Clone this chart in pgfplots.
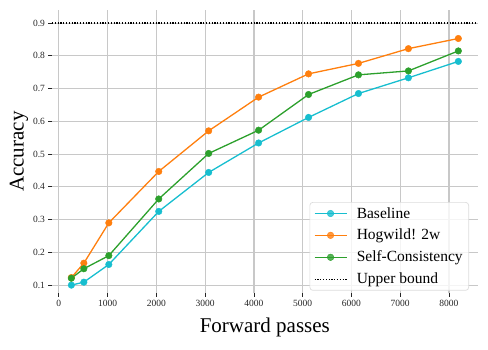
\documentclass[border=0pt]{standalone}
\usepackage{fontspec}
\setmainfont{Liberation Serif}
\usepackage{pgfplots}
\pgfplotsset{compat=1.18}

\definecolor{cBase}{HTML}{17BECF}
\definecolor{cHog}{HTML}{FF7F0E}
\definecolor{cSC}{HTML}{2CA02C}
\definecolor{gridgray}{HTML}{C8C8C8}
\definecolor{legframe}{HTML}{DCDCDC}

\begin{document}
\begin{tikzpicture}
\begin{axis}[
  at={(0,0)}, anchor=south west,
  scale only axis, width=425.7pt, height=283.3pt,
  xmin=-141, xmax=8589, ymin=0.075, ymax=0.94,
  xtick={0,1000,2000,3000,4000,5000,6000,7000,8000},
  ytick={0.1,0.2,0.3,0.4,0.5,0.6,0.7,0.8,0.9},
  axis line style={draw=none},
  grid=major, major grid style={line width=1.2pt, color=gridgray},
  tick align=outside, tick pos=left, major tick length=3.5pt,
  tick style={line width=0.8pt, color=black!85},
  tick label style={font=\fontsize{9.5}{11}\selectfont, text=black!85},
  /pgf/number format/assume math mode=true,
  /pgf/number format/1000 sep={},
  yticklabel style={/pgf/number format/fixed, /pgf/number format/precision=1, /pgf/number format/fixed zerofill},
  xlabel={Forward passes}, ylabel={Accuracy},
  label style={font=\fontsize{21}{24}\selectfont},
  xlabel style={at={(axis description cs:0.5,-0.1401)}, anchor=base},
  ylabel style={at={(axis description cs:-0.0669,0.5)}, anchor=base},
  every axis plot/.append style={line width=1.3pt},
  legend image code/.code={\draw[mark repeat=2, mark phase=2] plot coordinates {(0pt,0pt) (16pt,0pt) (32pt,0pt)};},
  legend cell align=left,
  legend style={at={(axis description cs:0.9796,0.0092)}, anchor=south east,
    draw=legframe, line width=0.7pt, rounded corners=3pt, fill=white, fill opacity=0.8, text opacity=1,
    font=\fontsize{15.5}{18}\selectfont, inner xsep=4pt, inner ysep=3pt, row sep=5.6pt, column sep=7.5pt,
    nodes={inner sep=2pt}},
]
\addplot[color=cBase, mark=*, mark size=3.3pt, mark options={fill=cBase, draw=cBase, line width=0.4pt}] coordinates
 {(256,0.100) (512,0.109) (1024,0.163) (2048,0.325) (3072,0.444) (4096,0.534) (5120,0.612) (6144,0.685) (7168,0.733) (8192,0.783)};
\addlegendentry{Baseline}
\addplot[color=cHog, mark=*, mark size=3.3pt, mark options={fill=cHog, draw=cHog, line width=0.4pt}] coordinates
 {(256,0.123) (512,0.167) (1024,0.290) (2048,0.447) (3072,0.571) (4096,0.674) (5120,0.745) (6144,0.777) (7168,0.822) (8192,0.853)};
\addlegendentry{Hogwild! 2w}
\addplot[color=cSC, mark=*, mark size=3.3pt, mark options={fill=cSC, draw=cSC, line width=0.4pt}] coordinates
 {(256,0.121) (512,0.150) (1024,0.190) (2048,0.363) (3072,0.502) (4096,0.573) (5120,0.682) (6144,0.742) (7168,0.754) (8192,0.815)};
\addlegendentry{Self-Consistency}
\addplot[color=black, line width=1.4pt, dash pattern=on 1.2pt off 1.6pt] coordinates
 {(-141,0.9) (8589,0.9)};
\addlegendentry{Upper bound}
\end{axis}
\pgfresetboundingbox
\path (-52pt,-55.7pt) rectangle (436pt,293.3pt);
\end{tikzpicture}
\end{document}
